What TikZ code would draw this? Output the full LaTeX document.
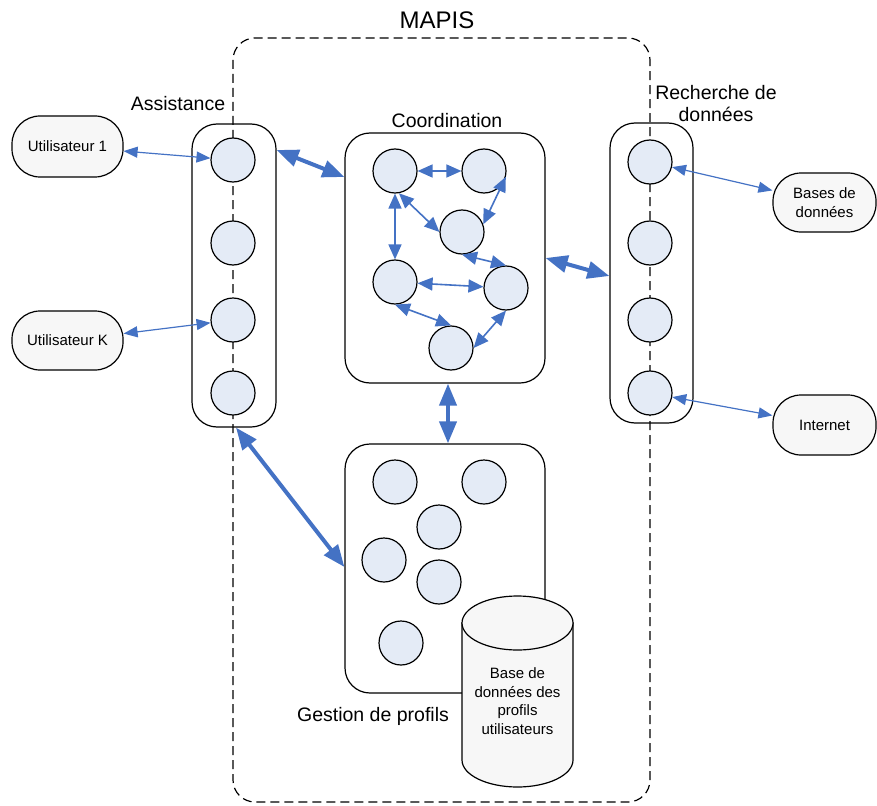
\documentclass[tikz,border=0pt]{standalone}
\usepackage{fontspec}
\setmainfont{Liberation Sans}
\usetikzlibrary{arrows.meta,calc}
\definecolor{ablue}{HTML}{4472C4}
\definecolor{cfill}{HTML}{E4EBF6}
\definecolor{bfill}{HTML}{F7F7F7}
\begin{document}
\begin{tikzpicture}[x=1pt,y=-1pt,
 agent/.style={circle,draw,line width=1.2pt,fill=cfill,minimum size=44pt,inner sep=0pt},
 grp/.style={draw,line width=1.2pt,rounded corners=25pt,inner sep=0pt},
 ext/.style={draw,line width=1.2pt,rounded corners=28pt,fill=bfill,inner sep=0pt,align=center,font=\fontsize{15}{19}\selectfont},
 thinarr/.style={ablue,line width=1.2pt,{Triangle[length=14pt,width=11pt]}-{Triangle[length=14pt,width=11pt]}},
 midarr/.style={ablue,line width=1.6pt,{Triangle[length=15pt,width=13pt]}-{Triangle[length=15pt,width=13pt]}},
 thickarr/.style={ablue,line width=4pt,{Triangle[length=22pt,width=17pt]}-{Triangle[length=22pt,width=17pt]}},
 lbl/.style={font=\fontsize{19.5}{22}\selectfont,align=center,inner sep=0pt}]
\useasboundingbox (0,0) rectangle (877,805);
% MAPIS
\draw[line width=1.2pt,dash pattern=on 9pt off 5pt,rounded corners=22pt] (233,38) rectangle (650,802);
\node[font=\fontsize{24}{28}\selectfont,inner sep=0pt] (mapis) at (437,20) {MAPIS};
% groups
\node[grp,minimum width=84pt,minimum height=303pt] (asst) at (234,275.5) {};
\node[grp,minimum width=200pt,minimum height=250pt] (coord) at (445,258) {};
\node[grp,minimum width=200pt,minimum height=249pt] (gest) at (445,568.5) {};
\node[grp,minimum width=83pt,minimum height=300pt] (rech) at (651.5,273) {};
\node[lbl] (lasst) at (178,104) {Assistance};
\node[lbl] (lcoord) at (447,121) {Coordination};
\node[lbl] (lrech) at (716,104) {Recherche de\\données};
\node[lbl] (lgest) at (373,716) {Gestion de profils};
% externals
\node[ext,minimum width=111pt,minimum height=61pt] (u1) at (67.5,146.5) {Utilisateur 1};
\node[ext,minimum width=111pt,minimum height=59pt] (uk) at (67.5,340.5) {Utilisateur K};
\node[ext,minimum width=103pt,minimum height=59pt] (bd) at (824.5,202.5) {Bases de\\données};
\node[ext,minimum width=103pt,minimum height=60pt] (inet) at (824.5,425) {Internet};
% assistance agents
\node[agent] (a1) at (233,160) {};
\node[agent] (a2) at (233,243) {};
\node[agent] (a3) at (233,320) {};
\node[agent] (a4) at (233,393) {};
% recherche agents
\node[agent] (r1) at (650,162) {};
\node[agent] (r2) at (650,243) {};
\node[agent] (r3) at (650,320) {};
\node[agent] (r4) at (650,393) {};
% coordination agents
\node[agent] (c1) at (395,171) {};
\node[agent] (c2) at (484,171) {};
\node[agent] (c3) at (462,232) {};
\node[agent] (c4) at (395,282) {};
\node[agent] (c5) at (506,288) {};
\node[agent] (c6) at (451,348) {};
% gestion agents
\node[agent] (g1) at (395,482) {};
\node[agent] (g2) at (484,482) {};
\node[agent] (g3) at (439,527) {};
\node[agent] (g4) at (384,560) {};
\node[agent] (g5) at (439,582) {};
\node[agent] (g6) at (401,643) {};
% database cylinder
\draw[line width=1.2pt,fill=bfill] (462,623) -- (462,760) arc[start angle=180,end angle=0,x radius=55.5,y radius=27] -- (573,623) -- cycle;
\draw[line width=1.2pt,fill=bfill] (517.5,623) ellipse [x radius=55.5,y radius=27];
\node[align=center,font=\fontsize{15}{18.7}\selectfont,inner sep=0pt] (db) at (517.5,701) {Base de\\données des\\profils\\utilisateurs};
% coordination connectors
\draw[midarr] (c1) -- (c2);
\draw[midarr] (c2.-15) -- (c3.20);
\draw[midarr] (c1.-80) -- (c3.west);
\draw[midarr] (c1) -- (c4);
\draw[midarr] (c3.south) -- (c5.north);
\draw[midarr] (c4) -- (c5);
\draw[midarr] (c4.south) -- (c6.north);
\draw[midarr] (c6.east) -- (c5.south);
% external connectors
\draw[thinarr] (u1) -- (a1);
\draw[thinarr] (uk) -- (a3);
\draw[thinarr] (r1) -- (bd);
\draw[thinarr] (r4) -- (inet);
% thick connectors
\coordinate (t1a) at (asst.east |- 0,150);
\coordinate (t1b) at (coord.west |- 0,177);
\draw[thickarr] (t1a) -- (t1b);
\coordinate (t2a) at (coord.east |- 0,258);
\coordinate (t2b) at (rech.west |- 0,276);
\draw[thickarr] (t2a) -- (t2b);
\coordinate (t3a) at (448,0 |- coord.south);
\coordinate (t3b) at (448,0 |- gest.north);
\draw[thickarr] (t3a) -- (t3b);
\coordinate (t4a) at (236,0 |- asst.south);
\coordinate (t4b) at (gest.west |- 0,567);
\draw[thickarr] (t4a) -- (t4b);
\end{tikzpicture}
\end{document}
